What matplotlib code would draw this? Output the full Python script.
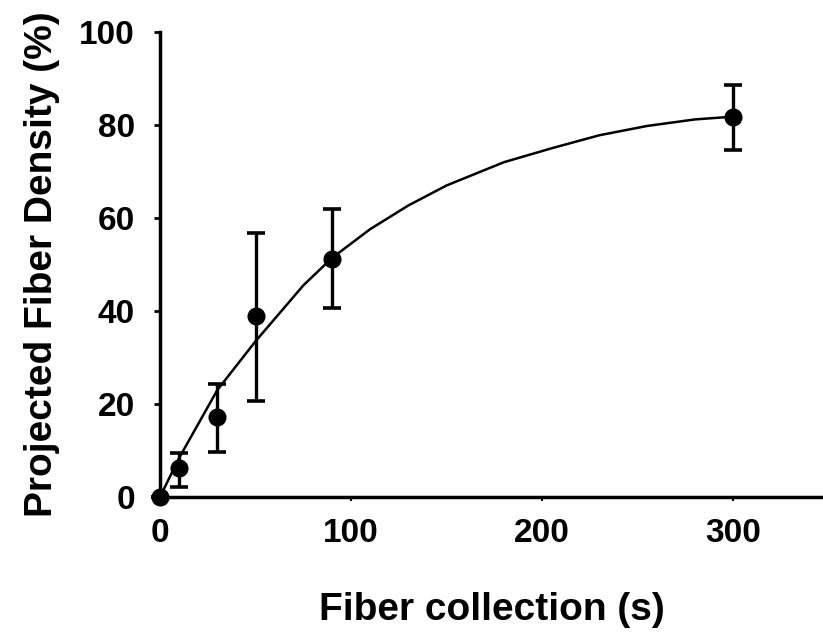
import numpy as np
from matplotlib import pyplot as plt

plt.rcParams['font.family'] = ['Liberation Sans', 'DejaVu Sans']
plt.rcParams['font.weight'] = 'bold'

# measured points (mean and error bar ends)
t = [0, 10, 30, 50, 90, 300]
density = [0, 6.2, 17.2, 38.9, 51.2, 81.7]
err_low = [0, 2.2, 9.7, 20.6, 40.6, 74.6]
err_high = [0, 9.5, 24.3, 56.8, 61.9, 88.6]

# fitted curve
fit_t = [0, 10, 30, 50, 75, 90, 110, 130, 150, 180, 205, 230, 255, 280, 300]
fit_y = [0, 8.4, 23, 33.5, 45.5, 51.4, 57.6, 62.7, 67, 72, 75, 77.8, 79.8, 81.2, 81.8]

fig = plt.figure(figsize=(8.23, 6.33), dpi=100)
ax = fig.add_axes([160/823, 136/633, 663/823, 465/633])

ax.plot(fit_t, fit_y, color='black', lw=1.8)
yerr = [np.array(density) - np.array(err_low), np.array(err_high) - np.array(density)]
ax.errorbar(t, density, yerr=yerr, fmt='o', color='black', ms=12,
            elinewidth=2.4, capsize=6.5, capthick=2.6, clip_on=False, zorder=3)

ax.set_xlim(0, 347)
ax.set_ylim(0, 100)
ax.set_xticks([0, 100, 200, 300])
ax.set_yticks([0, 20, 40, 60, 80, 100])
for s in ['top', 'right']:
    ax.spines[s].set_visible(False)
for s in ['left', 'bottom']:
    ax.spines[s].set_linewidth(2.5)
ax.tick_params(axis='y', length=4, width=2, labelsize=24, pad=14)
ax.tick_params(axis='x', length=3, width=1.5, labelsize=24, pad=12)

ax.set_xlabel('Fiber collection (s)', fontsize=28, fontweight='bold', labelpad=31)
ax.set_ylabel('Projected Fiber Density (%)', fontsize=28, fontweight='bold', labelpad=14)

fig.savefig('out.png', dpi=100)
